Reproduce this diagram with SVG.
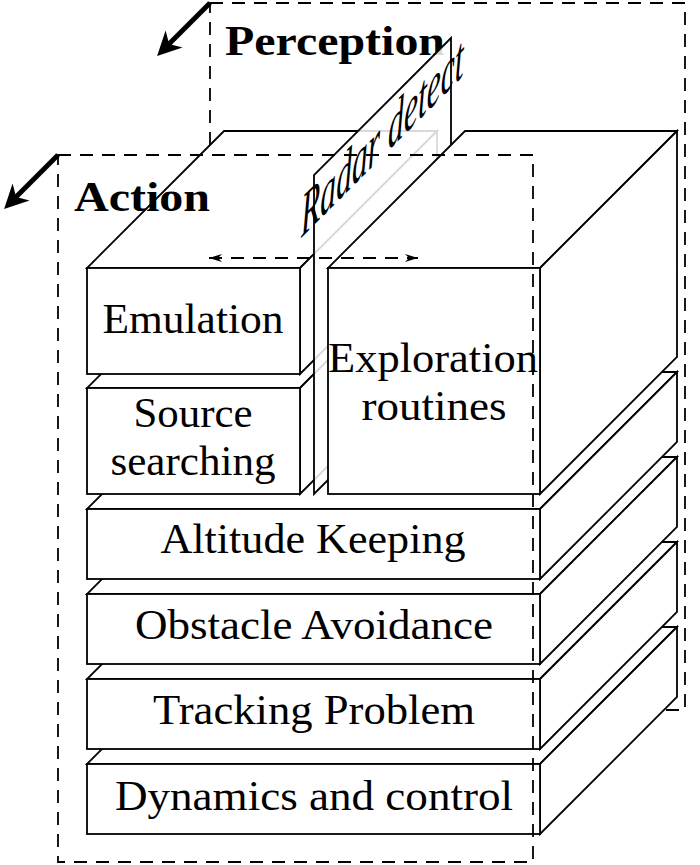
<svg xmlns="http://www.w3.org/2000/svg" width="700" height="865" viewBox="0 0 700 865">
<style>
.face{fill:#fff;stroke:#000;stroke-width:1.8}
.dash{fill:none;stroke:#000;stroke-width:1.8;stroke-dasharray:13 9}
.lbl{font-family:"Liberation Serif","Times New Roman",serif;font-size:42px;fill:#000;text-anchor:middle}
.bold{font-family:"Liberation Serif","Times New Roman",serif;font-size:42px;font-weight:bold;fill:#000}
</style>
<defs>
<marker id="thick" markerUnits="userSpaceOnUse" viewBox="-12 -13 27 26" refX="0" refY="0" markerWidth="27" markerHeight="26" orient="auto">
<path d="M14,0 L-10,-12 L-3,0 L-10,12 z" fill="#000"/>
</marker>
<marker id="small" markerUnits="userSpaceOnUse" viewBox="-14 -5 16 10" refX="0" refY="0" markerWidth="16" markerHeight="10" orient="auto-start-reverse">
<path d="M0,0 L-13,-4 L-9,0 L-13,4 z" fill="#000"/>
</marker>
</defs>

<g id="perception">
<rect class="dash" x="210" y="3" width="475" height="707"/>
<text class="bold" x="225" y="55" textLength="220" lengthAdjust="spacingAndGlyphs">Perception</text>
</g>

<g id="dynamics">
<polygon class="face" points="87,764 540,764 677,627 224,627"/>
<polygon class="face" points="540,764 677,627 677,697 540,834"/>
<rect class="face" x="87" y="764" width="453" height="70"/>
<text class="lbl" x="314" y="810" textLength="398" lengthAdjust="spacingAndGlyphs">Dynamics and control</text>
</g>
<g id="tracking">
<polygon class="face" points="87,679 540,679 677,542 224,542"/>
<polygon class="face" points="540,679 677,542 677,612 540,749"/>
<rect class="face" x="87" y="679" width="453" height="70"/>
<text class="lbl" x="314" y="724" textLength="322" lengthAdjust="spacingAndGlyphs">Tracking Problem</text>
</g>
<g id="obstacle">
<polygon class="face" points="87,594 540,594 677,457 224,457"/>
<polygon class="face" points="540,594 677,457 677,527 540,664"/>
<rect class="face" x="87" y="594" width="453" height="70"/>
<text class="lbl" x="314" y="639" textLength="358" lengthAdjust="spacingAndGlyphs">Obstacle Avoidance</text>
</g>
<g id="altitude">
<polygon class="face" points="87,509 540,509 677,372 224,372"/>
<polygon class="face" points="540,509 677,372 677,442 540,579"/>
<rect class="face" x="87" y="509" width="453" height="70"/>
<text class="lbl" x="313" y="553" textLength="305" lengthAdjust="spacingAndGlyphs">Altitude Keeping</text>
</g>
<g id="source">
<polygon class="face" points="87,388 300,388 437,251 224,251"/>
<polygon class="face" points="300,388 437,251 437,357 300,494"/>
<rect class="face" x="87" y="388" width="213" height="106"/>
<text class="lbl" x="193" y="427" textLength="119" lengthAdjust="spacingAndGlyphs">Source</text>
<text class="lbl" x="193" y="475" textLength="165" lengthAdjust="spacingAndGlyphs">searching</text>
</g>
<g id="emulation">
<polygon class="face" points="87,268 300,268 437,131 224,131"/>
<polygon class="face" points="300,268 437,131 437,237 300,374"/>
<rect class="face" x="87" y="268" width="213" height="106"/>
<text class="lbl" x="193" y="333" textLength="181" lengthAdjust="spacingAndGlyphs">Emulation</text>
</g>
<g id="radar">
<polygon points="314,494 314,175 451,38 451,357" fill="#fff" fill-opacity="0.85" stroke="#000" stroke-width="1.8"/>
<text transform="matrix(0.7071,-0.7071,0,1.45,301,238)" x="0" y="0" font-family="'Liberation Serif','Times New Roman',serif" font-style="italic" font-size="42" textLength="230" lengthAdjust="spacingAndGlyphs">Radar detect</text>
</g>
<g id="exploration">
<polygon class="face" points="328,268 540,268 677,131 465,131"/>
<polygon class="face" points="540,268 677,131 677,357 540,494"/>
<rect class="face" x="328" y="268" width="212" height="226"/>
<text class="lbl" x="433" y="372" textLength="210" lengthAdjust="spacingAndGlyphs">Exploration</text>
<text class="lbl" x="434" y="420" textLength="145" lengthAdjust="spacingAndGlyphs">routines</text>
</g>

<g id="action">
<rect class="dash" x="58" y="155" width="475" height="707"/>
<text class="bold" x="74" y="211" textLength="136" lengthAdjust="spacingAndGlyphs">Action</text>
</g>

<g id="connectors">
<path d="M210,3 L167,46" stroke="#000" stroke-width="5" fill="none" marker-end="url(#thick)"/>
<path d="M58,155 L14,199" stroke="#000" stroke-width="5" fill="none" marker-end="url(#thick)"/>
<path d="M209,258 L418,258" stroke="#000" stroke-width="1.8" stroke-dasharray="13 9" fill="none" marker-start="url(#small)" marker-end="url(#small)"/>
</g>
</svg>
